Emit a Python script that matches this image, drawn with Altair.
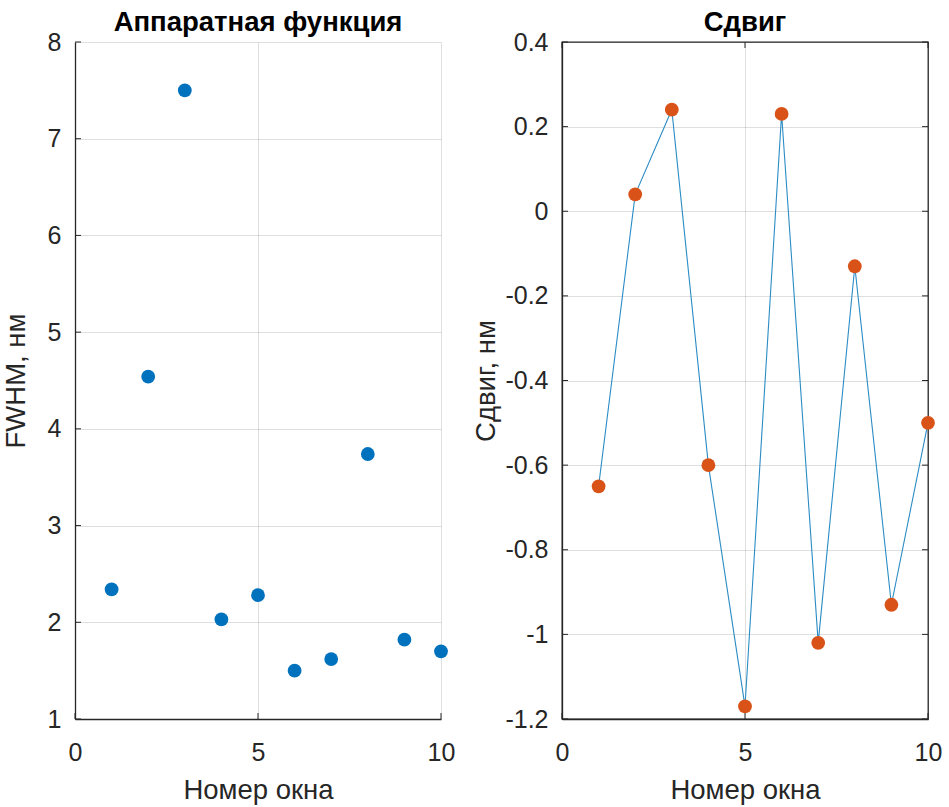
import altair as alt
import pandas as pd

# ---- data ----
window = [1, 2, 3, 4, 5, 6, 7, 8, 9, 10]
fwhm = [2.34, 4.54, 7.50, 2.03, 2.28, 1.50, 1.62, 3.74, 1.82, 1.70]
shift = [-0.65, 0.04, 0.24, -0.60, -1.17, 0.23, -1.02, -0.13, -0.93, -0.50]

x_ticks = [0, 5, 10]
fwhm_ticks = [1, 2, 3, 4, 5, 6, 7, 8]
shift_ticks = [-1.2, -1.0, -0.8, -0.6, -0.4, -0.2, 0, 0.2, 0.4]

left_title = "Аппаратная функция"
right_title = "Сдвиг"
x_label = "Номер окна"
left_ylabel = "FWHM, нм"
right_ylabel = "Сдвиг, нм"

# ---- style ----
W, H = 366, 677
FONT = "Liberation Sans"
AX = "#262626"
BLUE = "#0072BD"
ORANGE = "#D95319"
LINE = "#2b8cc4"
TICK_FS = 25
LAB_FS = 27.5
TICK_LEN = 6

label_expr = "replace(format(datum.value, '~g'), '\u2212', '-')"

df_l = pd.DataFrame({"x": window, "y": fwhm})
df_r = pd.DataFrame({"x": window, "y": shift})
df_xt = pd.DataFrame({"v": x_ticks})
df_lt = pd.DataFrame({"v": fwhm_ticks})
df_rt = pd.DataFrame({"v": shift_ticks})

xscale = alt.Scale(domain=[0, 10], nice=False, zero=False)
lscale = alt.Scale(domain=[1, 8], nice=False, zero=False)
rscale = alt.Scale(domain=[-1.2, 0.4], nice=False, zero=False)


def xaxis():
    return alt.Axis(values=x_ticks, title=x_label, grid=True, tickSize=0,
                    labelPadding=41, labelBaseline="alphabetic", labelExpr=label_expr,
                    labelFlush=False, titleBaseline="alphabetic", titleY=79)


def yaxis(vals, title, tx):
    return alt.Axis(values=vals, title=title, grid=True, tickSize=0,
                    labelPadding=14, labelExpr=label_expr, labelFlush=False,
                    titleBaseline="alphabetic", titleX=tx)


# left panel
l_pts = alt.Chart(df_l).mark_circle(size=190, color=BLUE, opacity=1).encode(
    x=alt.X("x:Q", scale=xscale, axis=xaxis()),
    y=alt.Y("y:Q", scale=lscale, axis=yaxis(fwhm_ticks, left_ylabel, -51)),
)
l_yt = alt.Chart(df_lt).mark_rule(color=AX, strokeWidth=1).encode(
    y=alt.Y("v:Q", scale=lscale), x=alt.value(0), x2=alt.value(TICK_LEN))
l_xt = alt.Chart(df_xt).mark_rule(color=AX, strokeWidth=1).encode(
    x=alt.X("v:Q", scale=xscale), y=alt.value(H - TICK_LEN), y2=alt.value(H))
left = alt.layer(l_pts, l_yt, l_xt).properties(
    width=W, height=H, title=left_title,
    view=alt.ViewBackground(stroke="transparent"))

# right panel
r_line = alt.Chart(df_r).mark_line(color=LINE, strokeWidth=1.1).encode(
    x=alt.X("x:Q", scale=xscale, axis=xaxis()),
    y=alt.Y("y:Q", scale=rscale, axis=yaxis(shift_ticks, right_ylabel, -68)),
)
r_pts = alt.Chart(df_r).mark_circle(size=190, color=ORANGE, opacity=1).encode(
    x=alt.X("x:Q", scale=xscale),
    y=alt.Y("y:Q", scale=rscale),
)
r_yt = alt.Chart(df_rt).mark_rule(color=AX, strokeWidth=1).encode(
    y=alt.Y("v:Q", scale=rscale), x=alt.value(0), x2=alt.value(TICK_LEN))
r_yt2 = alt.Chart(df_rt).mark_rule(color=AX, strokeWidth=1).encode(
    y=alt.Y("v:Q", scale=rscale), x=alt.value(W - TICK_LEN), x2=alt.value(W))
r_xt = alt.Chart(df_xt).mark_rule(color=AX, strokeWidth=1).encode(
    x=alt.X("v:Q", scale=xscale), y=alt.value(H - TICK_LEN), y2=alt.value(H))
r_xt2 = alt.Chart(df_xt).mark_rule(color=AX, strokeWidth=1).encode(
    x=alt.X("v:Q", scale=xscale), y=alt.value(0), y2=alt.value(TICK_LEN))
right = alt.layer(r_line, r_pts, r_yt, r_yt2, r_xt, r_xt2).properties(
    width=W, height=H, title=right_title,
    view=alt.ViewBackground(stroke=AX, strokeWidth=1.3))

chart = alt.hconcat(left, right, spacing=121, bounds="flush").properties(
    padding={"left": 1, "top": 7, "right": 0, "bottom": 0},
    background="white",
).configure_axis(
    labelFont=FONT, titleFont=FONT, labelFontSize=TICK_FS, titleFontSize=LAB_FS,
    labelColor=AX, titleColor=AX, titleFontWeight="normal",
    domainColor=AX, domainWidth=1.3,
    gridColor=AX, gridOpacity=0.15, gridWidth=1,
).configure_title(
    font=FONT, fontSize=27.5, fontWeight="bold", color="#000000",
    baseline="alphabetic", offset=-6, anchor="middle",
).configure_view(stroke="transparent")

chart.save("out.html", embed_options={"renderer": "svg", "actions": False})
